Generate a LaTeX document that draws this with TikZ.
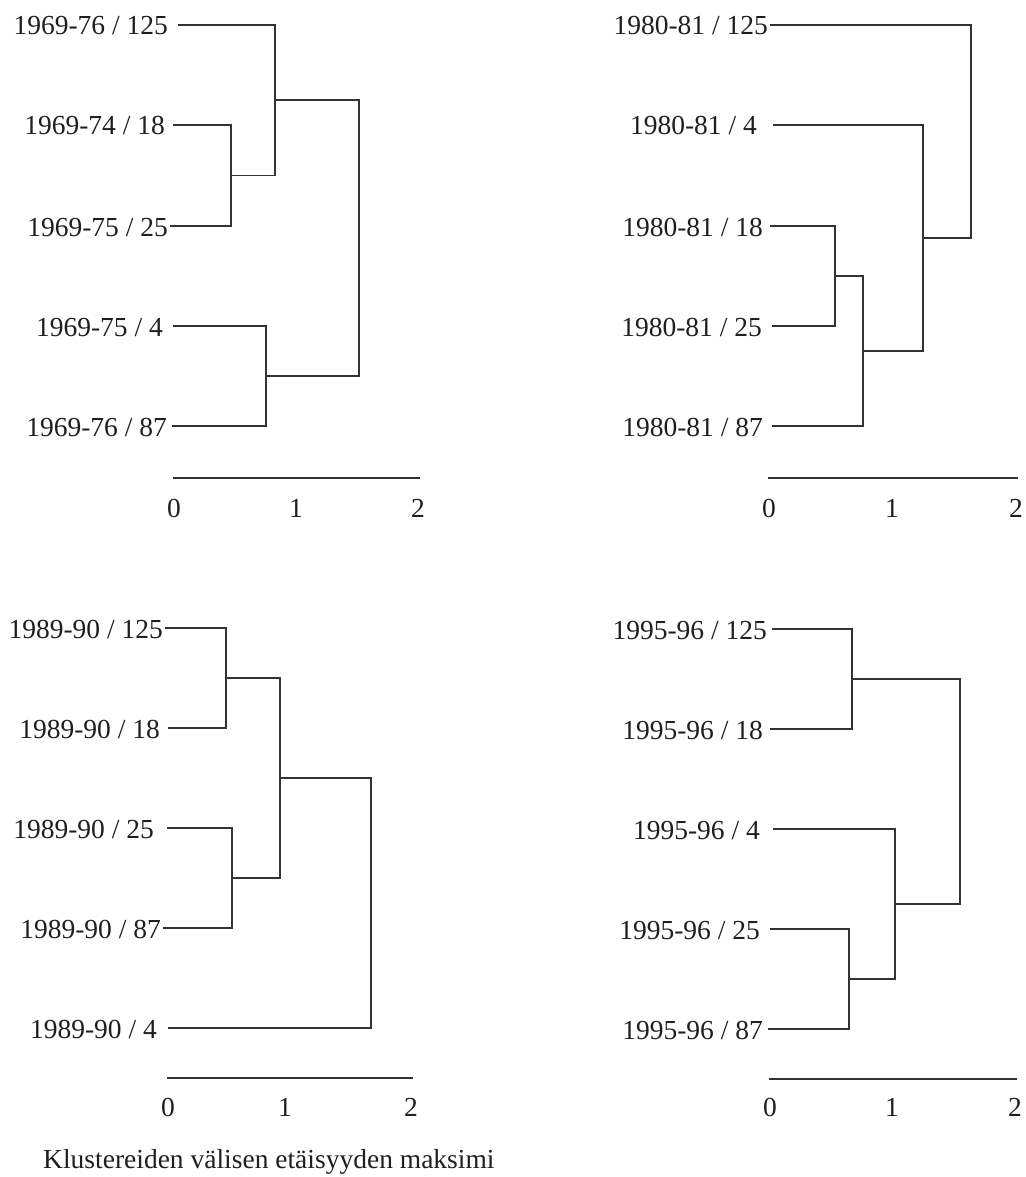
\documentclass[tikz,border=0pt]{standalone}
\usepackage{fontspec}
\setmainfont{Liberation Serif}
\begin{document}
\begin{tikzpicture}[x=1pt,y=-1pt,
  lbl/.style={anchor=base east,inner sep=0pt,font=\fontsize{27.5}{33}\selectfont,text=black!88},
  ticklbl/.style={anchor=base,inner sep=0pt,font=\fontsize{27.5}{33}\selectfont,text=black!88},
  branch/.style={draw=black!80,line width=1.2pt,line join=miter},
  axisline/.style={draw=black!80,line width=1.2pt}]
\useasboundingbox (0,0) rectangle (1025,1177);

% leaf: name, text right edge, line start, line height, text
\newcommand\leafnode[5]{%
  \node[lbl] (#1) at (#2,#4+10) {#5};
  \coordinate (#1s) at (#3,#4);}
% axis with 0/1/2 labels: prefix, x0, x2, axis height, label baseline, x of "1"
\newcommand\distaxis[6]{%
  \coordinate (#1a0) at (#2,#4);
  \coordinate (#1a2) at (#3,#4);
  \draw[axisline] (#1a0) -- (#1a2);
  \node[ticklbl] (#1t0) at (#2+1,#5) {0};
  \node[ticklbl] (#1t1) at (#6,#5) {1};
  \node[ticklbl] (#1t2) at (#3-2,#5) {2};}

% ---------- 1969-76 ----------
\leafnode{pa}{168}{178}{25}{1969-76 / 125}
\leafnode{pb}{165}{173}{125}{1969-74 / 18}
\leafnode{pc}{168}{170}{226}{1969-75 / 25}
\leafnode{pd}{163}{173}{326}{1969-75 / 4}
\leafnode{pe}{167}{172}{426}{1969-76 / 87}
\coordinate (pbc) at (231,175.5);
\coordinate (pabc) at (275,100);
\coordinate (pde) at (266,376);
\coordinate (proot) at (359,238);
\draw[branch] (pbs) -| (pbc) |- (pcs);
\draw[branch] (pas) -| (pabc) |- (pbc);
\draw[branch] (pds) -| (pde) |- (pes);
\draw[branch] (pabc) -| (proot) |- (pde);
\distaxis{p}{173}{420}{478}{517}{296}

% ---------- 1980-81 ----------
\leafnode{qa}{768}{770}{25}{1980-81 / 125}
\leafnode{qb}{757}{773}{125}{1980-81 / 4}
\leafnode{qc}{763}{770}{226}{1980-81 / 18}
\leafnode{qd}{762}{772}{326}{1980-81 / 25}
\leafnode{qe}{763}{772}{426}{1980-81 / 87}
\coordinate (qcd) at (835,276);
\coordinate (qcde) at (863,351);
\coordinate (qbcde) at (923,238);
\coordinate (qroot) at (971,131.5);
\draw[branch] (qcs) -| (qcd) |- (qds);
\draw[branch] (qcd) -| (qcde) |- (qes);
\draw[branch] (qbs) -| (qbcde) |- (qcde);
\draw[branch] (qas) -| (qroot) |- (qbcde);
\distaxis{q}{768}{1018}{478}{517}{892}

% ---------- 1989-90 ----------
\leafnode{ra}{163}{165}{628}{1989-90 / 125}
\leafnode{rb}{160}{168}{728}{1989-90 / 18}
\leafnode{rc}{154}{167}{828}{1989-90 / 25}
\leafnode{rd}{161}{163}{928}{1989-90 / 87}
\leafnode{re}{157}{168}{1028}{1989-90 / 4}
\coordinate (rab) at (226,678);
\coordinate (rcd) at (232,878);
\coordinate (rabcd) at (280,778);
\coordinate (rroot) at (371,903);
\draw[branch] (ras) -| (rab) |- (rbs);
\draw[branch] (rcs) -| (rcd) |- (rds);
\draw[branch] (rab) -| (rabcd) |- (rcd);
\draw[branch] (rabcd) -| (rroot) |- (res);
\distaxis{r}{167}{413}{1078}{1116}{285}

% ---------- 1995-96 ----------
\leafnode{sa}{767}{772}{629}{1995-96 / 125}
\leafnode{sb}{763}{770}{729}{1995-96 / 18}
\leafnode{sc}{760}{773}{829}{1995-96 / 4}
\leafnode{sd}{760}{770}{929}{1995-96 / 25}
\leafnode{se}{763}{768}{1029}{1995-96 / 87}
\coordinate (sab) at (852,679);
\coordinate (sde) at (849,979);
\coordinate (scde) at (895,904);
\coordinate (sroot) at (960,791.5);
\draw[branch] (sas) -| (sab) |- (sbs);
\draw[branch] (sds) -| (sde) |- (ses);
\draw[branch] (scs) -| (scde) |- (sde);
\draw[branch] (sab) -| (sroot) |- (scde);
\distaxis{s}{769}{1017}{1079}{1116}{892}

% axis caption
\node[anchor=base west,inner sep=0pt,font=\fontsize{27.5}{33}\selectfont,text=black!88]
  (caption) at (43,1168) {Klustereiden välisen etäisyyden maksimi};
\end{tikzpicture}
\end{document}
